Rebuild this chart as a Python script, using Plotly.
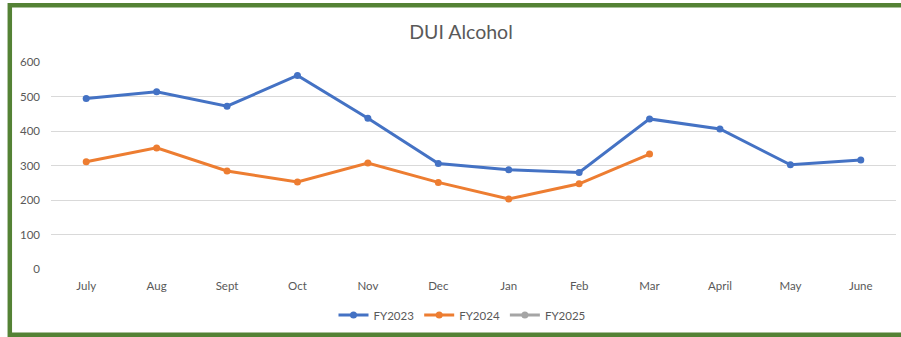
import plotly.graph_objects as go

# Monthly DUI alcohol counts by fiscal year
months = ["July", "Aug", "Sept", "Oct", "Nov", "Dec", "Jan", "Feb", "Mar", "April", "May", "June"]
fy2023 = [494, 514, 472, 561, 437, 306, 288, 280, 435, 406, 302, 316]
fy2024 = [311, 351, 284, 252, 307, 251, 203, 247, 333, None, None, None]
fy2025 = [None] * 12

series = [
    ("FY2023", fy2023, "#4472C4"),
    ("FY2024", fy2024, "#ED7D31"),
    ("FY2025", fy2025, "#A5A5A5"),
]

FONT = "Lato, Calibri, Liberation Sans, sans-serif"
TEXT = "#595959"

fig = go.Figure()
for name, vals, color in series:
    fig.add_trace(go.Scatter(
        x=months, y=vals, name=name, mode="lines+markers",
        line=dict(color=color, width=3),
        marker=dict(color=color, size=7),
        connectgaps=False,
    ))

W, H = 901, 337
ml, mr, mt, mb = 51, 5, 62, 68
pw, ph = W - ml - mr, H - mt - mb


def px_x(x):
    return (x - ml) / pw


def px_y(y):
    return (H - mb - y) / ph


# green frame around the chart area
fig.add_shape(
    type="rect", xref="paper", yref="paper",
    x0=px_x(9.8), x1=px_x(915), y0=px_y(334.8), y1=px_y(5.3),
    line=dict(color="#548235", width=4.5), fillcolor="rgba(0,0,0,0)",
    layer="above",
)

fig.update_layout(
    width=W, height=H,
    margin=dict(l=ml, r=mr, t=mt, b=mb),
    paper_bgcolor="white", plot_bgcolor="white",
    font=dict(family=FONT, color=TEXT, size=12),
    title=dict(text="DUI Alcohol", x=(461 / W), xanchor="center",
               y=1 - 32 / H, yanchor="middle",
               font=dict(size=19.5, color=TEXT, family=FONT)),
    showlegend=True,
    legend=dict(orientation="h", x=px_x(462), xanchor="center",
                y=px_y(315), yanchor="middle", itemwidth=30,
                font=dict(size=11.5, color=TEXT), traceorder="normal"),
    xaxis=dict(range=[-0.5, len(months) - 0.5], showgrid=False, showline=False,
               zeroline=False, ticks="", tickfont=dict(size=11.5, color=TEXT),
               fixedrange=True, ticklabelstandoff=8),
    yaxis=dict(range=[0, 600], dtick=100, showgrid=True, gridcolor="#D9D9D9",
               gridwidth=1, zeroline=False, showline=False, ticks="",
               tickfont=dict(size=11.5, color=TEXT), ticklabelstandoff=10),
)

fig.write_html("out.html")
